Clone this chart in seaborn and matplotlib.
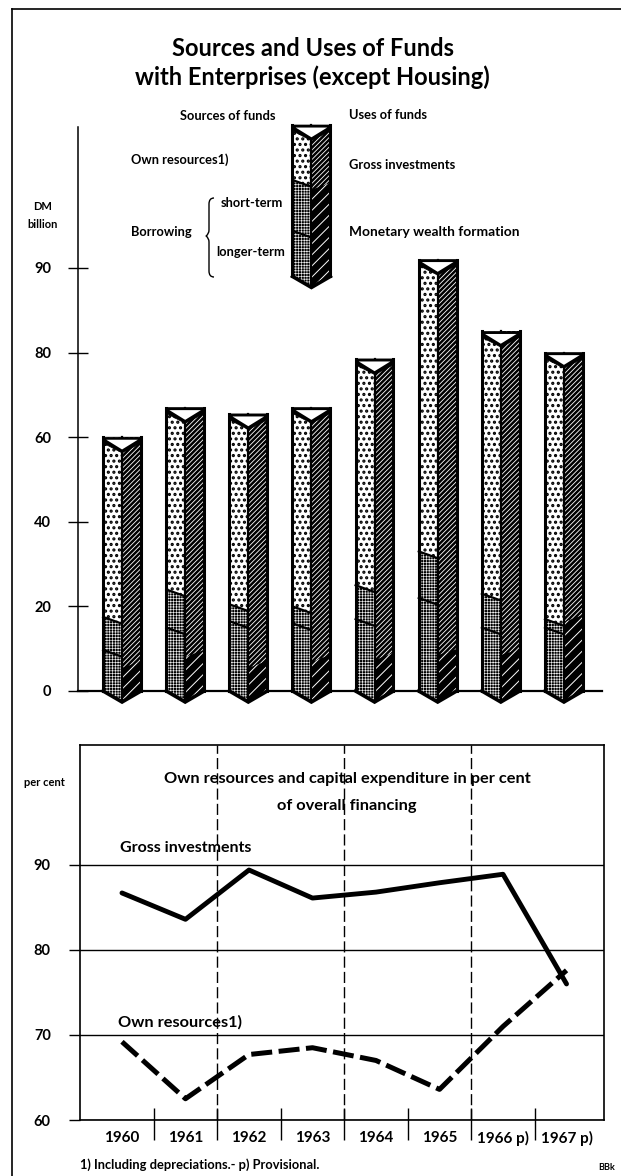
import numpy as np
import pandas as pd
import matplotlib
matplotlib.use("Agg")
import matplotlib.pyplot as plt
from matplotlib.patches import Polygon, PathPatch
from matplotlib.path import Path
import seaborn as sns

# ---- data -------------------------------------------------------------
years = ["1960", "1961", "1962", "1963", "1964", "1965", "1966", "1967"]
total = [60, 67, 65.5, 67, 78.5, 102, 85, 80]
short_top = [17.5, 24, 20.5, 20, 25, 33, 23, 17]
long_top = [9.7, 15, 16.5, 16, 17, 22, 15, 15]
monetary = [7, 9.7, 7, 8.5, 9, 10, 10, 18]

key_year = "1963"
key_base = 98
key_total = 133.8
key_short = 120.8
key_long = 108.8
key_monetary = 120

top_ticks = [0, 20, 40, 60, 80, 100]
top_tick_labels = ["0", "20", "40", "60", "80", "90"]

line_years = [1960, 1961, 1962, 1963, 1964, 1965, 1966, 1967]
gross_inv = [86.7, 83.6, 89.4, 86.1, 86.8, 87.9, 88.9, 76.0]
own_res = [69.2, 62.5, 67.7, 68.5, 67.0, 63.6, 71.0, 77.6]
low_ticks = [60, 70, 80, 90]
low_labels = ["1960", "1961", "1962", "1963", "1964", "1965", "1966 p)", "1967 p)"]
dashed_seps = [1961.5, 1963.5, 1965.5]
all_seps = [1960.5, 1961.5, 1962.5, 1963.5, 1964.5, 1965.5, 1966.5]

# ---- style ------------------------------------------------------------
sns.set_theme(style="white")
plt.rcParams["font.family"] = ["Lato", "DejaVu Sans"]
plt.rcParams["hatch.linewidth"] = 0.6

W, H = 621, 1176
fig = plt.figure(figsize=(W / 100, H / 100), dpi=100, facecolor="white")


def rect(x0, y0, x1, y1):
    return [x0 / W, 1 - y1 / H, (x1 - x0) / W, (y1 - y0) / H]


def ftext(x, y, s, size=9.3, ha="left", weight="bold", **kw):
    fig.text(x / W, 1 - y / H, s, fontsize=size, ha=ha, va="center",
             fontweight=weight, color="black", **kw)


# outer frame: only the top and left rules are on the page
frame = fig.add_axes(rect(12, 9, 621, 1176), zorder=-5)
frame.set_xticks([]); frame.set_yticks([])
for name, s in frame.spines.items():
    s.set_linewidth(1.2); s.set_color("black")
    s.set_visible(name in ("top", "left"))

# ---- upper chart ------------------------------------------------------
ax = fig.add_axes(rect(78, 125, 602, 691), facecolor="none")

OWN = dict(face="white", hcol="black", hatch="...", hlw=1.5)
SHORT = dict(face="black", hcol="#eeeeee", hatch="++++++", hlw=0.45)
LONG = dict(face="black", hcol="#eeeeee", hatch="++++++", hlw=0.45)
GROSS = dict(face="black", hcol="white", hatch="///////", hlw=0.6)
MONEY = dict(face="black", hcol="white", hatch="///", hlw=0.7)


def set_hlw(p, st):
    if hasattr(p, "set_hatch_linewidth"):
        p.set_hatch_linewidth(st["hlw"])


def layer(side, yrs, vals, st, bottom=0.0):
    n = len(ax.patches)
    df = pd.DataFrame({"year": yrs, "val": vals, "side": side})
    sns.barplot(data=df, x="year", y="val", hue="side", hue_order=["L", "R"],
                order=years, width=0.6, gap=0, dodge=True, errorbar=None,
                palette={"L": st["face"], "R": st["face"]}, saturation=1,
                legend=False, ax=ax, bottom=bottom, hatch=st["hatch"],
                edgecolor=st["hcol"], linewidth=0, zorder=3)
    for p in ax.patches[n:]:
        set_hlw(p, st)


def poly(pts, st=None, z=4, **kw):
    if st is not None:
        p = Polygon(pts, closed=True, facecolor=st["face"], edgecolor=st["hcol"],
                    hatch=st["hatch"], linewidth=0, zorder=z, clip_on=False)
        set_hlw(p, st)
    else:
        p = Polygon(pts, closed=True, clip_on=False, zorder=z, **kw)
    ax.add_patch(p)


def stroke(xs, ys, lw=2.0, z=6):
    ax.plot(xs, ys, color="black", lw=lw, solid_capstyle="projecting",
            solid_joinstyle="miter", clip_on=False, zorder=z)


def decorate(i, top, sh, lo, mo, base):
    hw, slant = 0.3, 1.6
    # slanted boundaries between the layers
    poly([(i - hw, sh), (i, sh), (i, sh - slant)], OWN)
    poly([(i - hw, lo), (i, lo), (i, lo - slant)], SHORT)
    poly([(i + hw, mo), (i, mo), (i, mo - slant)], GROSS)
    stroke([i - hw, i], [sh, sh - slant], 1.6)
    stroke([i - hw, i], [lo, lo - slant], 1.6)
    # pointed foot
    tip = 2.6
    poly([(i - hw, base), (i, base), (i, base - tip)], LONG)
    poly([(i + hw, base), (i, base), (i, base - tip)], MONEY)
    stroke([i - hw, i, i + hw], [base, base - tip, base], 2.6)
    # outlines
    for x, w in ((i - hw, 2.2), (i, 1.6), (i + hw, 2.2)):
        stroke([x, x], [base if x != i else base - tip, top], w)
    # open top
    poly([(i - hw, top), (i + hw, top), (i + hw, top - 1.4), (i, top - 3.7),
          (i - hw, top - 1.4)], facecolor="black", edgecolor="black", linewidth=0.5, z=7)
    poly([(i - 0.25, top - 0.6), (i + 0.25, top - 0.6), (i, top - 2.9)],
         facecolor="white", edgecolor="none", z=8)


# draw tallest layers first so that the lower ones overlay them
layer("L", years, total, OWN)
layer("L", years, short_top, SHORT)
layer("L", years, long_top, LONG)
layer("R", years, total, GROSS)
layer("R", years, monetary, MONEY)
for i in range(len(years)):
    decorate(i, total[i], short_top[i], long_top[i], monetary[i], 0)

# key column
k = years.index(key_year)
layer("L", [key_year], [key_total - key_base], OWN, bottom=key_base)
layer("L", [key_year], [key_short - key_base], SHORT, bottom=key_base)
layer("L", [key_year], [key_long - key_base], LONG, bottom=key_base)
layer("R", [key_year], [key_total - key_base], GROSS, bottom=key_base)
layer("R", [key_year], [key_monetary - key_base], MONEY, bottom=key_base)
decorate(k, key_total, key_short, key_long, key_monetary, key_base)

ax.set_xlim(-0.698, 7.603)
ax.set_ylim(0, 133.8)
ax.set_xlabel(""); ax.set_ylabel("")
ax.set_xticks([])
ax.set_yticks(top_ticks)
ax.set_yticklabels(top_tick_labels, fontsize=10.5, fontweight="bold")
ax.tick_params(axis="y", left=True, direction="inout", length=15, width=1.0,
               pad=12, color="black", labelcolor="black")
for name in ("top", "right"):
    ax.spines[name].set_visible(False)
ax.spines["left"].set_bounds(0, 133.3)
ax.spines["left"].set_color("black"); ax.spines["left"].set_linewidth(1.1)
ax.spines["bottom"].set_color("black"); ax.spines["bottom"].set_linewidth(1.6)

# ---- lower chart ------------------------------------------------------
ax2 = fig.add_axes(rect(80, 745, 604, 1120), facecolor="none")
lines = pd.DataFrame({"year": line_years * 2,
                      "value": gross_inv + own_res,
                      "series": ["Gross investments"] * 8 + ["Own resources"] * 8})
sns.lineplot(data=lines[lines.series == "Gross investments"], x="year", y="value",
             color="black", lw=3.5, errorbar=None, legend=False, ax=ax2, zorder=4)
sns.lineplot(data=lines[lines.series == "Own resources"], x="year", y="value",
             color="black", lw=3.6, errorbar=None, legend=False, ax=ax2, zorder=4,
             linestyle=(0, (4.2, 1.3)))
ax2.set_xlim(1960 - 0.661, 1960 + 7.59)
ax2.set_ylim(60, 104.1)
ax2.set_xlabel(""); ax2.set_ylabel("")
ax2.set_yticks(low_ticks)
ax2.set_yticklabels([str(t) for t in low_ticks], fontsize=10.5, fontweight="bold")
ax2.set_xticks(line_years)
ax2.set_xticklabels(low_labels, fontsize=11, fontweight="bold")
ax2.tick_params(axis="x", bottom=False, pad=2, labelcolor="black")
ax2.tick_params(axis="y", left=True, direction="out", length=8, width=1.0,
                pad=13, color="black", labelcolor="black")
ax2.grid(axis="y", color="black", lw=1.0, zorder=1)
ax2.set_axisbelow(True)
for s in ax2.spines.values():
    s.set_color("black"); s.set_linewidth(1.2)
ax2.vlines(dashed_seps, 60, 104.1, color="black", lw=1.0, linestyles=(0, (8, 3)), zorder=2)
ax2.vlines(all_seps, 60 - 2.3, 61.4, color="black", lw=1.0, clip_on=False, zorder=2)

# ---- texts ------------------------------------------------------------
ftext(313, 48, "Sources and Uses of Funds", size=17, ha="center")
ftext(312, 77, "with Enterprises (except Housing)", size=17, ha="center")
ftext(180, 116, "Sources of funds")
ftext(349, 115, "Uses of funds")
ftext(131, 160, "Own resources1)")
ftext(349, 165, "Gross investments")
ftext(221, 203, "short-term")
ftext(131, 232, "Borrowing")
ftext(216, 252, "longer-term")
ftext(349, 232, "Monetary wealth formation", size=9.9)
ftext(43, 207, "DM", size=8, ha="center")
ftext(43, 224, "billion", size=8, ha="center")
ftext(44, 782, "per cent", size=8, ha="center")
ftext(347, 779, "Own resources and capital expenditure in per cent", size=11.8, ha="center")
ftext(347, 806, "of overall financing", size=11.8, ha="center")
ftext(120, 848, "Gross investments", size=11.5)
ftext(118, 1022, "Own resources1)", size=11.8)
ftext(80, 1165, "1) Including depreciations.- p) Provisional.", size=9.3)
ftext(598, 1167, "BBk", size=6.5)

# brace
bx, tp, mid, bt = 209, 198, 236, 277
verts = [(bx + 5, tp), (bx, tp), (bx, tp + 6), (bx, mid - 6), (bx, mid - 2), (bx - 3, mid),
         (bx, mid + 2), (bx, mid + 6), (bx, bt - 6), (bx, bt), (bx + 5, bt)]
codes = [Path.MOVETO, Path.CURVE3, Path.CURVE3, Path.LINETO, Path.CURVE3, Path.CURVE3,
         Path.CURVE3, Path.CURVE3, Path.LINETO, Path.CURVE3, Path.CURVE3]
fig.add_artist(PathPatch(Path([(x / W, 1 - y / H) for x, y in verts], codes),
                         transform=fig.transFigure, fill=False, edgecolor="black", lw=1.0))

fig.savefig("out.png", dpi=100)
